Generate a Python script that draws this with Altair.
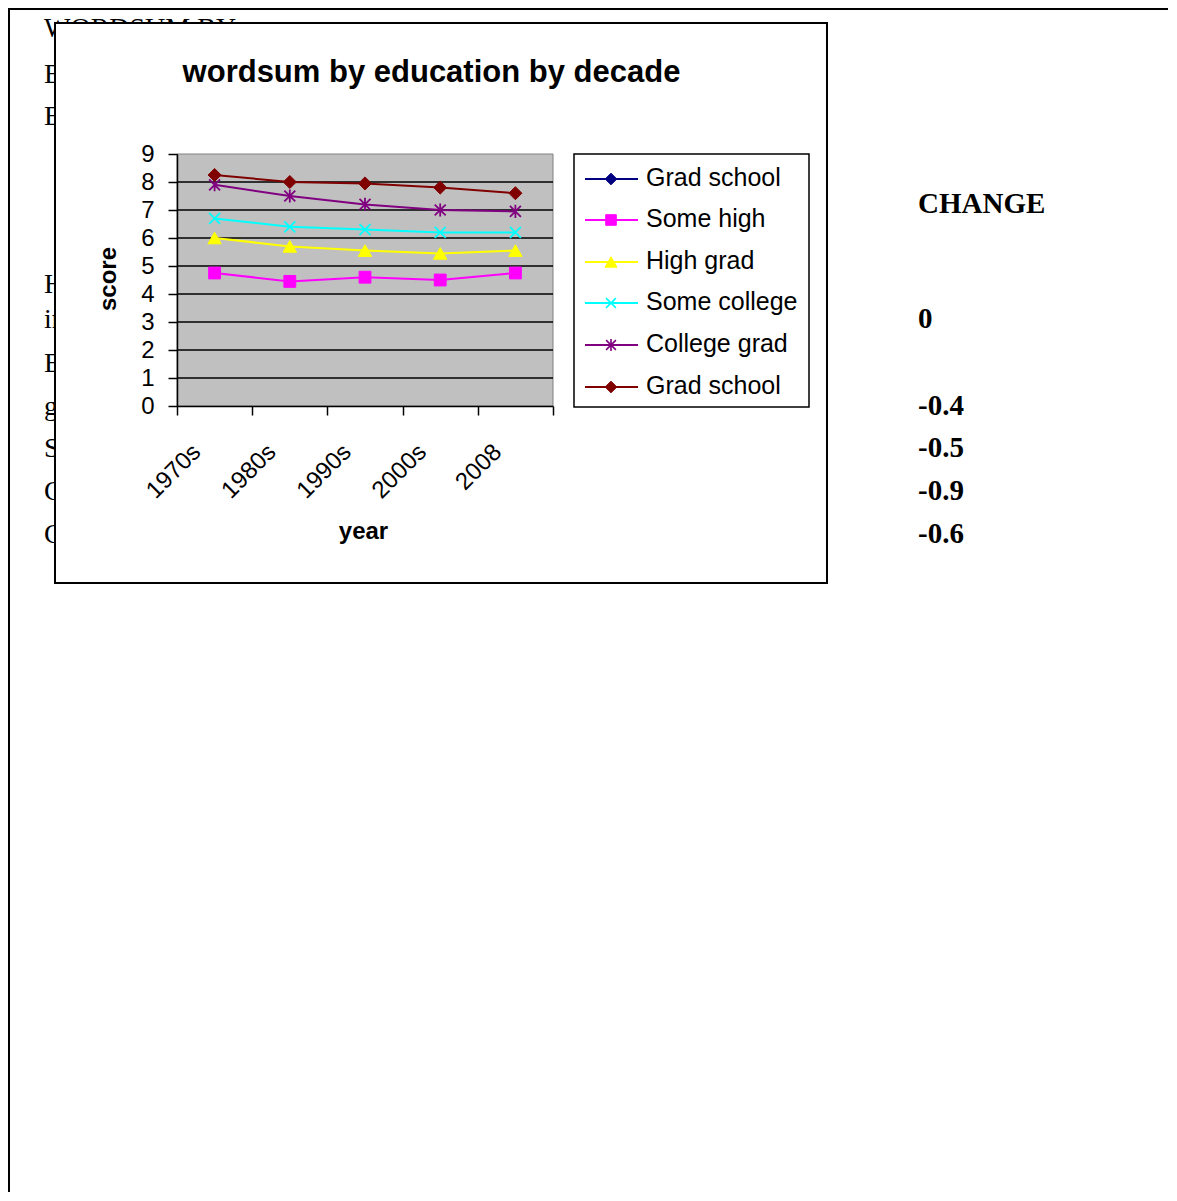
import altair as alt
import pandas as pd

# ---------------- data ----------------
decades = ["1970s", "1980s", "1990s", "2000s", "2008"]

some_high = [4.75, 4.45, 4.6, 4.5, 4.75]
high_grad = [6.0, 5.7, 5.55, 5.45, 5.55]
some_college = [6.7, 6.4, 6.3, 6.2, 6.2]
college_grad = [7.9, 7.5, 7.2, 7.0, 6.95]
grad_school = [8.25, 8.0, 7.95, 7.8, 7.6]

legend_labels = ["Grad school", "Some high", "High grad", "Some college", "College grad", "Grad school"]
y_ticks = [0, 1, 2, 3, 4, 5, 6, 7, 8, 9]
grid_values = [1, 2, 3, 4, 5, 6, 7, 8]

chart_title = "wordsum by education by decade"
x_title = "year"
y_title = "score"

doc_left_text = ["WORDSUM BY", "E", "E", "H", "in", "E", "g", "S", "C", "C"]
doc_right_text = ["CHANGE", "0", "-0.4", "-0.5", "-0.9", "-0.6"]

# ---------------- styles ----------------
X_PATH = "M-1,-1L1,1M-1,1L1,-1"
STAR_PATH = "M-1,-1L1,1M-1,1L1,-1M0,-1.2L0,1.2"

series_values = [None, some_high, high_grad, some_college, college_grad, grad_school]
colors = ["#000080", "#FF00FF", "#FFFF00", "#00FFFF", "#800080", "#800000"]
shapes = ["diamond", "square", "triangle-up", X_PATH, STAR_PATH, "diamond"]
filled = [True, True, True, False, False, True]
sizes = [170, 140, 180, 120, 120, 170]

W, H = 376, 252
PX0, PY0 = 177, 154  # page position of plot origin


def vx(px):
    return px - PX0


def vy(py):
    return py - PY0


one = alt.Data(values=[{}])

x_enc = alt.X(
    "decade:N",
    sort=decades,
    scale=alt.Scale(type="band", domain=decades, paddingInner=0, paddingOuter=0),
    bandPosition=0.5,
    axis=alt.Axis(
        title=x_title,
        tickBand="extent",
        labelAngle=315,
        labelAlign="right",
        labelBaseline="middle",
        labelFont="Liberation Sans",
        labelFontSize=24,
        labelColor="black",
        labelPadding=33,
        labelOffset=-18,
        labelOverlap=False,
        tickSize=9,
        tickColor="black",
        tickWidth=1.5,
        domainColor="black",
        domainWidth=1.5,
        grid=False,
        titleFont="Liberation Sans",
        titleFontSize=24,
        titleFontWeight="bold",
        titleColor="black",
        titleX=vx(363),
        titleY=132,
        titleAlign="center",
        titleBaseline="alphabetic",
        zindex=1,
    ),
)

y_enc = alt.Y(
    "score:Q",
    scale=alt.Scale(domain=[0, 9], nice=False, zero=True),
    axis=alt.Axis(
        title=y_title,
        values=y_ticks,
        labelFont="Liberation Sans",
        labelFontSize=24,
        labelColor="black",
        labelPadding=14,
        tickSize=9,
        tickColor="black",
        tickWidth=1.5,
        domainColor="black",
        domainWidth=1.5,
        grid=False,
        titleFont="Liberation Sans",
        titleFontSize=24,
        titleFontWeight="bold",
        titleColor="black",
        titleAngle=270,
        titleX=vx(115),
        titleY=124.5,
        titleAlign="center",
        titleBaseline="alphabetic",
        zindex=1,
    ),
)

layers = []

# page border
layers.append(alt.Chart(one).mark_rule(color="black", strokeWidth=2).encode(
    x=alt.value(-169), x2=alt.value(991), y=alt.value(-145)))
layers.append(alt.Chart(one).mark_rule(color="black", strokeWidth=2).encode(
    x=alt.value(-168), y=alt.value(-146), y2=alt.value(1039)))

# background document text
left_base = [37, 83, 125, 293, 328, 372, 415, 457, 500, 543]
for t, b in zip(doc_left_text, left_base):
    layers.append(alt.Chart(one).mark_text(
        text=t, font="Liberation Serif", fontSize=28, align="left",
        baseline="alphabetic", color="black").encode(
        x=alt.value(vx(44)), y=alt.value(vy(b))))

right_base = [213, 328, 415, 457, 500, 543]
for t, b in zip(doc_right_text, right_base):
    layers.append(alt.Chart(one).mark_text(
        text=t, font="Liberation Serif", fontSize=29, fontWeight="bold",
        align="left", baseline="alphabetic", color="black").encode(
        x=alt.value(vx(918)), y=alt.value(vy(b))))

# chart box
layers.append(alt.Chart(one).mark_rect(fill="white", stroke="black", strokeWidth=2).encode(
    x=alt.value(vx(55)), x2=alt.value(vx(827)), y=alt.value(vy(23)), y2=alt.value(vy(583))))

# title
layers.append(alt.Chart(one).mark_text(
    text=chart_title, font="Liberation Sans", fontSize=31, fontWeight="bold",
    align="center", baseline="alphabetic", color="black").encode(
    x=alt.value(vx(431.5)), y=alt.value(vy(82))))

# plot area
layers.append(alt.Chart(one).mark_rect(fill="#C0C0C0", stroke="#808080", strokeWidth=1).encode(
    x=alt.value(0), x2=alt.value(W), y=alt.value(0), y2=alt.value(H)))

# grid lines
layers.append(alt.Chart(pd.DataFrame({"score": grid_values})).mark_rule(
    color="black", strokeWidth=1.5).encode(y=y_enc))

# series
for i in range(1, 6):
    df = pd.DataFrame({"decade": decades, "score": series_values[i]})
    layers.append(alt.Chart(df).mark_line(color=colors[i], strokeWidth=2).encode(x=x_enc, y=y_enc))
    pkw = dict(shape=shapes[i], size=sizes[i], opacity=1)
    if filled[i]:
        pkw.update(filled=True, fill=colors[i], stroke=colors[i], strokeWidth=1)
    else:
        pkw.update(filled=False, stroke=colors[i], strokeWidth=1.8)
    layers.append(alt.Chart(df).mark_point(**pkw).encode(x=x_enc, y=y_enc))

# legend
layers.append(alt.Chart(one).mark_rect(fill="white", stroke="black", strokeWidth=1.5).encode(
    x=alt.value(vx(574)), x2=alt.value(vx(809)), y=alt.value(vy(154)), y2=alt.value(vy(407))))
legend_y = [179, 220, 262, 303, 345, 387]
for i, lab in enumerate(legend_labels):
    yy = vy(legend_y[i])
    layers.append(alt.Chart(one).mark_rule(color=colors[i], strokeWidth=2).encode(
        x=alt.value(vx(585)), x2=alt.value(vx(638)), y=alt.value(yy)))
    pkw = dict(shape=shapes[i], size=sizes[i] * 0.8, opacity=1)
    if filled[i]:
        pkw.update(filled=True, fill=colors[i], stroke=colors[i], strokeWidth=1)
    else:
        pkw.update(filled=False, stroke=colors[i], strokeWidth=1.6)
    layers.append(alt.Chart(one).mark_point(**pkw).encode(
        x=alt.value(vx(611)), y=alt.value(yy)))
    layers.append(alt.Chart(one).mark_text(
        text=lab, font="Liberation Sans", fontSize=25, align="left",
        baseline="middle", color="black").encode(
        x=alt.value(vx(646)), y=alt.value(yy - 1)))

chart = alt.layer(*layers).properties(
    width=W,
    height=H,
    autosize=alt.AutoSizeParams(type="none"),
    padding={"left": 169, "top": 146, "right": 615, "bottom": 786},
    background="white",
).configure_view(strokeWidth=0, fill=None)

chart.save("out.html", embed_options={"renderer": "svg", "actions": False})
